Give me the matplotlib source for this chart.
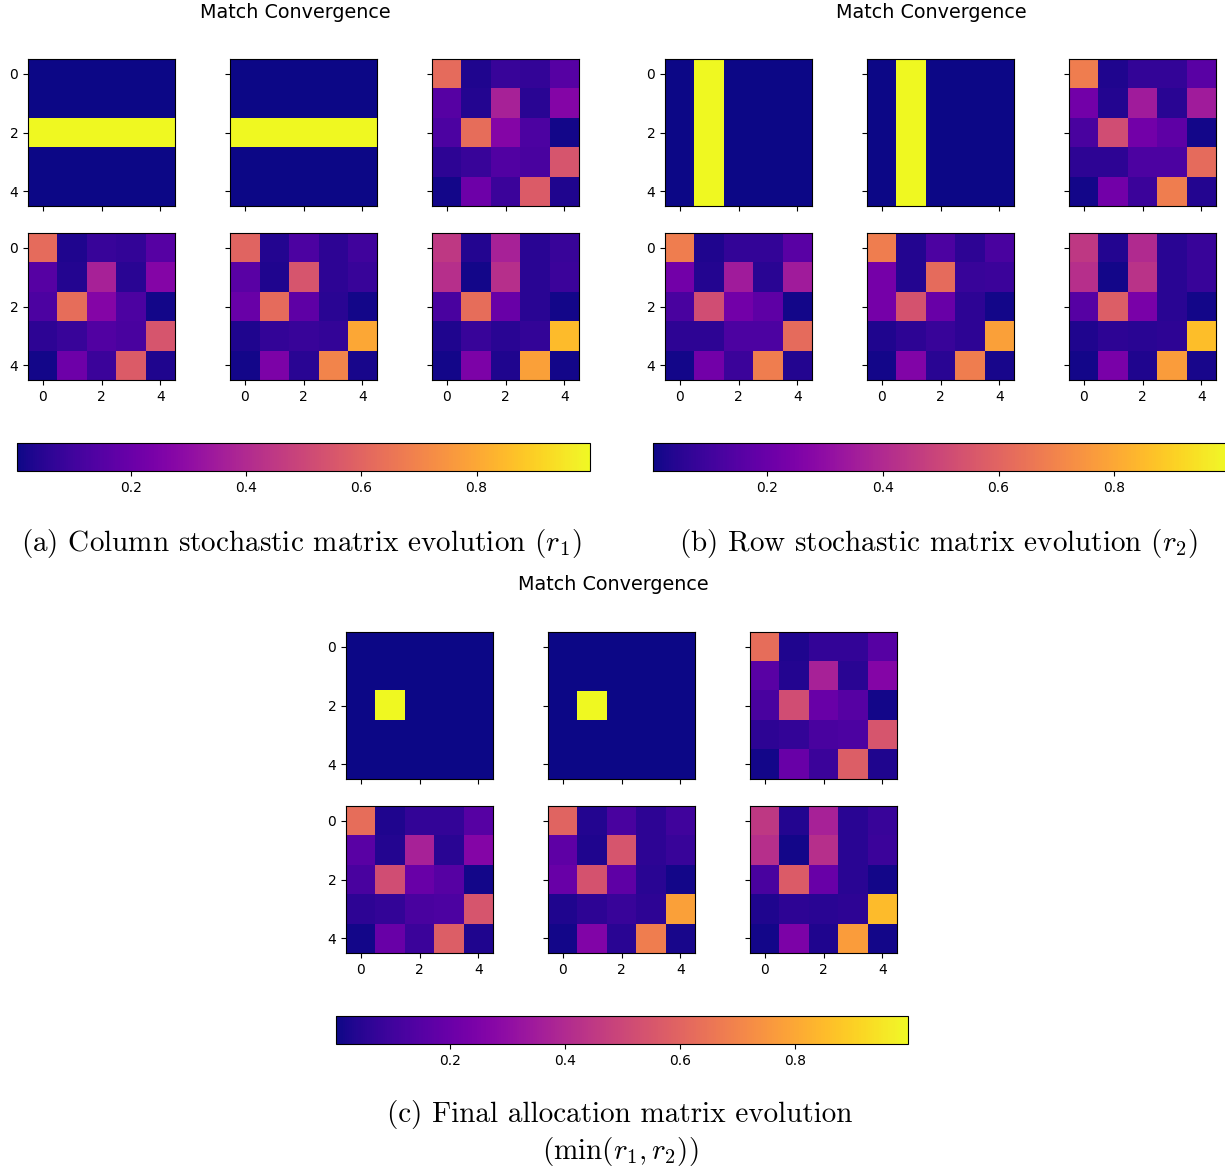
import matplotlib
matplotlib.use("Agg")
import matplotlib.pyplot as plt
import numpy as np

plt.rcParams["mathtext.fontset"] = "cm"

# color scale limits
vmin = 0.002
vmax = 0.997
lo, hi = vmin, vmax

# (a) column stochastic matrix evolution
a_1 = [[lo] * 5, [lo] * 5, [hi] * 5, [lo] * 5, [lo] * 5]
a_2 = a_1
a_3 = [[0.62, 0.03, 0.08, 0.07, 0.15],
       [0.15, 0.04, 0.37, 0.05, 0.27],
       [0.13, 0.63, 0.27, 0.13, 0.01],
       [0.06, 0.08, 0.14, 0.12, 0.55],
       [0.01, 0.21, 0.09, 0.57, 0.03]]
a_4 = a_3
a_5 = [[0.60, 0.04, 0.13, 0.06, 0.10],
       [0.16, 0.03, 0.55, 0.06, 0.08],
       [0.20, 0.62, 0.17, 0.05, 0.01],
       [0.03, 0.07, 0.08, 0.07, 0.80],
       [0.01, 0.25, 0.05, 0.70, 0.02]]
a_6 = [[0.45, 0.04, 0.37, 0.05, 0.08],
       [0.42, 0.01, 0.42, 0.05, 0.09],
       [0.12, 0.63, 0.20, 0.05, 0.01],
       [0.03, 0.08, 0.05, 0.07, 0.85],
       [0.01, 0.25, 0.03, 0.78, 0.01]]

# (b) row stochastic matrix evolution
b_1 = [[lo, hi, lo, lo, lo] for _ in range(5)]
b_2 = b_1
b_3 = [[0.68, 0.03, 0.07, 0.07, 0.16],
       [0.22, 0.04, 0.35, 0.05, 0.35],
       [0.12, 0.52, 0.22, 0.17, 0.01],
       [0.06, 0.06, 0.13, 0.13, 0.62],
       [0.01, 0.22, 0.09, 0.68, 0.04]]
b_4 = b_3
b_5 = [[0.68, 0.04, 0.13, 0.06, 0.12],
       [0.23, 0.04, 0.62, 0.08, 0.09],
       [0.23, 0.54, 0.20, 0.06, 0.01],
       [0.03, 0.06, 0.08, 0.06, 0.78],
       [0.01, 0.26, 0.05, 0.68, 0.02]]
b_6 = [[0.45, 0.04, 0.40, 0.05, 0.08],
       [0.42, 0.01, 0.43, 0.05, 0.08],
       [0.15, 0.58, 0.24, 0.05, 0.01],
       [0.03, 0.06, 0.05, 0.06, 0.86],
       [0.01, 0.24, 0.03, 0.77, 0.02]]

# (c) final allocation matrix evolution
c_1 = [[lo] * 5 for _ in range(5)]
c_1[2][1] = hi
c_2 = c_1
c_3 = [[0.63, 0.03, 0.07, 0.07, 0.15],
       [0.16, 0.04, 0.37, 0.05, 0.27],
       [0.12, 0.52, 0.20, 0.15, 0.01],
       [0.06, 0.07, 0.12, 0.13, 0.55],
       [0.01, 0.20, 0.09, 0.58, 0.03]]
c_4 = c_3
c_5 = [[0.60, 0.04, 0.12, 0.06, 0.10],
       [0.17, 0.03, 0.55, 0.06, 0.08],
       [0.20, 0.54, 0.17, 0.05, 0.01],
       [0.03, 0.06, 0.08, 0.06, 0.78],
       [0.01, 0.26, 0.05, 0.68, 0.02]]
c_6 = [[0.45, 0.04, 0.37, 0.05, 0.08],
       [0.42, 0.01, 0.42, 0.05, 0.09],
       [0.12, 0.57, 0.20, 0.05, 0.01],
       [0.03, 0.06, 0.05, 0.06, 0.85],
       [0.01, 0.25, 0.03, 0.77, 0.01]]

title = "Match Convergence"
captions = ["(a) Column stochastic matrix evolution ($r_1$)",
            "(b) Row stochastic matrix evolution ($r_2$)",
            "(c) Final allocation matrix evolution\n$(\\min(r_1, r_2))$"]

W, H = 1225, 1171
fig = plt.figure(figsize=(W / 100, H / 100), dpi=100)


def px_axes(x, y, w, h):
    # pixel box (top-left origin) -> figure axes
    return fig.add_axes([x / W, 1 - (y + h) / H, w / W, h / H])


def panel(mats, x0, y0, cb_x, cb_y, cb_w, title_x, title_y, cap_x, cap_y, caption):
    size = 147
    im = None
    for k, m in enumerate(mats):
        r, c = divmod(k, 3)
        ax = px_axes(x0 + 202 * c, y0 + 174 * r, size, size)
        im = ax.imshow(np.array(m), cmap="plasma", vmin=vmin, vmax=vmax)
        ax.set_xticks([0, 2, 4])
        ax.set_yticks([0, 2, 4])
        if r == 0:
            ax.set_xticklabels([])
        if c > 0:
            ax.set_yticklabels([])
    fig.text(title_x / W, 1 - title_y / H, title, ha="center", va="center", fontsize=13.8)
    cax = px_axes(cb_x, cb_y, cb_w, 28)
    fig.colorbar(im, cax=cax, orientation="horizontal")
    fig.text(cap_x / W, 1 - cap_y / H, caption, ha="center", va="center",
             fontsize=21, family="cmr10", linespacing=1.25)


panel([a_1, a_2, a_3, a_4, a_5, a_6], 28, 59, 17, 443, 573, 295, 12, 301, 543, captions[0])
panel([b_1, b_2, b_3, b_4, b_5, b_6], 665, 59, 653, 443, 575, 931, 12, 938, 543, captions[1])
panel([c_1, c_2, c_3, c_4, c_5, c_6], 346, 632, 336, 1016, 572, 613, 585, 620, 1134, captions[2])

fig.savefig("out.png", dpi=100)
